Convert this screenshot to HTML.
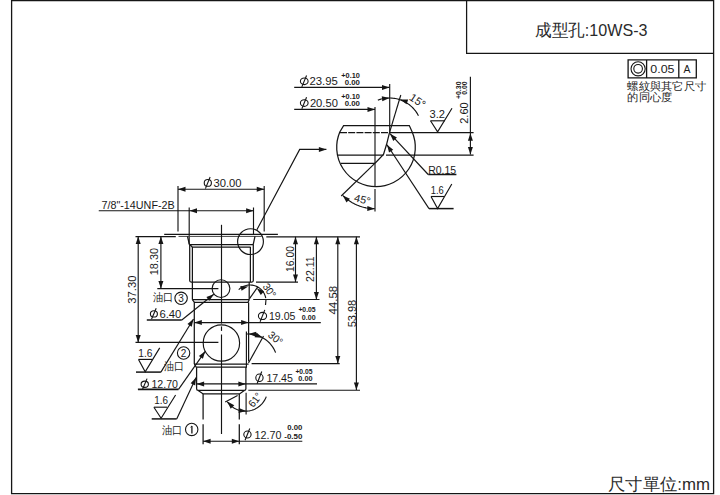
<!DOCTYPE html>
<html><head><meta charset="utf-8"><style>
html,body{margin:0;padding:0;background:#fff;}
svg{display:block;}
text{font-family:"Liberation Sans", sans-serif;}
</style></head><body>
<svg width="720" height="495" viewBox="0 0 720 495">
<rect width="720" height="495" fill="#fff"/>
<path d="M11.6,0.6 H713.6 V493.6 H11.6 Z" stroke="#151515" stroke-width="1.3" fill="none"/>
<path d="M466.6,0.5 V53.3 H713.5" stroke="#151515" stroke-width="1.25" fill="none"/>
<text x="535" y="36" font-size="16.5" text-anchor="start" fill="#2a2a2a" textLength="112.5" lengthAdjust="spacingAndGlyphs">成型孔:10WS-3</text>
<text x="608" y="490" font-size="16.5" text-anchor="start" fill="#2a2a2a" textLength="102" lengthAdjust="spacingAndGlyphs">尺寸單位:mm</text>
<path d="M628.1,59.8 H696.3 V77.9 H628.1 Z M646.6,59.8 V77.9 M678.8,59.8 V77.9" stroke="#151515" stroke-width="1.3" fill="none"/>
<circle cx="638.1" cy="68.8" r="7.1" stroke="#151515" stroke-width="1.1" fill="none"/>
<circle cx="638.1" cy="68.8" r="4.3" stroke="#151515" stroke-width="1.1" fill="none"/>
<text x="650.3" y="72.6" font-size="10.5" text-anchor="start" fill="#1a1a1a" textLength="24.2" lengthAdjust="spacingAndGlyphs">0.05</text>
<text x="683.6" y="72.6" font-size="10.5" text-anchor="start" fill="#1a1a1a">A</text>
<text x="627.3" y="90.3" font-size="11.2" text-anchor="start" fill="#1a1a1a" textLength="79" lengthAdjust="spacingAndGlyphs">螺紋與其它尺寸</text>
<text x="627.3" y="101.3" font-size="11.2" text-anchor="start" fill="#1a1a1a" textLength="45" lengthAdjust="spacingAndGlyphs">的同心度</text>
<path d="M294.20,87.40 L389.50,87.40" stroke="#151515" stroke-width="1.15" fill="none"/>
<polygon points="389.50,87.40 382.00,89.90 382.00,84.90" fill="#151515"/>
<path d="M389.70,84.00 L389.70,132.70" stroke="#151515" stroke-width="1.15" fill="none"/>
<ellipse cx="304.25" cy="81.30" rx="3.85" ry="3.30" stroke="#151515" stroke-width="1.1" fill="none"/>
<path d="M306.55,75.50 L301.85,86.90" stroke="#151515" stroke-width="1.1" fill="none"/>
<text x="309.5" y="85.1" font-size="11" text-anchor="start" fill="#1a1a1a" textLength="28.4" lengthAdjust="spacingAndGlyphs">23.95</text>
<text x="341.3" y="77.8" font-size="7" text-anchor="start" fill="#1a1a1a" textLength="18.6" lengthAdjust="spacingAndGlyphs" font-weight="bold">+0.10</text>
<text x="344.7" y="84.6" font-size="7" text-anchor="start" fill="#1a1a1a" textLength="15.2" lengthAdjust="spacingAndGlyphs" font-weight="bold">0.00</text>
<path d="M294.20,109.40 L375.00,109.40" stroke="#151515" stroke-width="1.15" fill="none"/>
<polygon points="375.00,109.40 367.50,111.90 367.50,106.90" fill="#151515"/>
<path d="M375.00,107.00 L375.00,186.50" stroke="#151515" stroke-width="1.15" fill="none"/>
<path d="M375.00,189.00 L375.00,211.50" stroke="#151515" stroke-width="1.15" fill="none"/>
<ellipse cx="304.25" cy="103.05" rx="3.85" ry="3.35" stroke="#151515" stroke-width="1.1" fill="none"/>
<path d="M306.55,97.20 L301.85,108.70" stroke="#151515" stroke-width="1.1" fill="none"/>
<text x="309.9" y="106.9" font-size="11" text-anchor="start" fill="#1a1a1a" textLength="28.0" lengthAdjust="spacingAndGlyphs">20.50</text>
<text x="341.3" y="99.2" font-size="7" text-anchor="start" fill="#1a1a1a" textLength="18.6" lengthAdjust="spacingAndGlyphs" font-weight="bold">+0.10</text>
<text x="344.7" y="106.4" font-size="7" text-anchor="start" fill="#1a1a1a" textLength="15.2" lengthAdjust="spacingAndGlyphs" font-weight="bold">0.00</text>
<path d="M377.85,100.16 L378.97,99.75 L380.11,99.39 L381.25,99.06 L382.41,98.78 L383.58,98.54 L384.75,98.35 L385.93,98.20 L387.12,98.09 L388.31,98.02 L389.50,98.00 L390.69,98.02 L391.88,98.09 L393.07,98.20 L394.25,98.35 L395.42,98.54 L396.59,98.78 L397.75,99.06 L398.89,99.39 L400.03,99.75 L401.15,100.16 L402.25,100.61 L403.34,101.09 L404.41,101.62 L405.45,102.19 L406.48,102.79 L407.49,103.43 L408.47,104.11 L409.42,104.82 L410.35,105.57 L411.25,106.35 L412.12,107.16 L412.96,108.01 L413.77,108.88 L414.54,109.78 L415.28,110.72 L415.99,111.67 L416.66,112.66 L417.30,113.66 L417.90,114.69 L418.46,115.75" stroke="#151515" stroke-width="1.15" fill="none"/>
<polygon points="389.50,98.00 382.30,101.28 381.78,96.30" fill="#151515"/>
<polygon points="400.30,99.40 408.20,99.56 406.53,104.27" fill="#151515"/>
<path d="M389.50,132.70 L400.80,95.00" stroke="#151515" stroke-width="1.15" fill="none"/>
<text x="408.6" y="99.3" font-size="11" text-anchor="start" fill="#1a1a1a" transform="rotate(34 408.6 99.3)">15°</text>
<path d="M343.6,125.6 L409.3,125.6 L412.2,132 A39.3,39.3 0 1 1 339.8,132 Z" stroke="#151515" stroke-width="1.25" fill="none"/>
<path d="M340.00,132.70 L389.00,132.70" stroke="#151515" stroke-width="1.25" fill="none" stroke-dasharray="7,1.2"/>
<path d="M389.00,132.70 L473.60,132.70" stroke="#151515" stroke-width="1.25" fill="none"/>
<path d="M338.00,155.00 L383.50,155.00" stroke="#151515" stroke-width="1.25" fill="none"/>
<path d="M386.00,155.00 L473.60,155.00" stroke="#151515" stroke-width="1.25" fill="none"/>
<path d="M341.00,163.40 L375.00,163.40" stroke="#151515" stroke-width="1.25" fill="none"/>
<path d="M389.50,132.70 L386.60,144.30 L383.50,154.50 L375.00,163.20" stroke="#151515" stroke-width="1.25" fill="none"/>
<path d="M390.00,133.70 L428.20,174.50" stroke="#151515" stroke-width="1.15" fill="none"/>
<path d="M428.20,174.50 L456.40,174.50" stroke="#151515" stroke-width="1.5" fill="none"/>
<polygon points="390.00,133.70 396.94,137.48 393.28,140.89" fill="#151515"/>
<path d="M387.00,144.80 L429.00,208.60" stroke="#151515" stroke-width="1.15" fill="none"/>
<path d="M429.00,208.60 L453.60,208.60" stroke="#151515" stroke-width="1.5" fill="none"/>
<polygon points="387.00,144.80 393.21,149.69 389.04,152.44" fill="#151515"/>
<text x="428.2" y="173.7" font-size="10" text-anchor="start" fill="#1a1a1a" textLength="28" lengthAdjust="spacingAndGlyphs">R0.15</text>
<path d="M430.50,120.80 L445.00,120.80" stroke="#151515" stroke-width="1.15" fill="none"/>
<path d="M430.50,120.80 L437.60,131.90 L452.00,108.30" stroke="#151515" stroke-width="1.15" fill="none"/>
<text x="429.5" y="118" font-size="10.5" text-anchor="start" fill="#1a1a1a" textLength="15.5" lengthAdjust="spacingAndGlyphs">3.2</text>
<path d="M431.00,196.50 L444.00,196.50" stroke="#151515" stroke-width="1.15" fill="none"/>
<path d="M431.00,196.50 L437.60,208.60 L451.80,184.00" stroke="#151515" stroke-width="1.15" fill="none"/>
<text x="430.8" y="194" font-size="10.5" text-anchor="start" fill="#1a1a1a" textLength="13" lengthAdjust="spacingAndGlyphs">1.6</text>
<path d="M470.40,76.80 L470.40,154.50" stroke="#151515" stroke-width="1.15" fill="none"/>
<polygon points="470.40,133.20 472.90,140.70 467.90,140.70" fill="#151515"/>
<polygon points="470.40,154.50 467.90,147.00 472.90,147.00" fill="#151515"/>
<text x="467.6" y="123.8" font-size="11" text-anchor="start" fill="#1a1a1a" transform="rotate(-90 467.6 123.8)" textLength="21.5" lengthAdjust="spacingAndGlyphs">2.60</text>
<text x="461.4" y="99" font-size="7" text-anchor="start" fill="#1a1a1a" transform="rotate(-90 461.4 99)" textLength="17.5" lengthAdjust="spacingAndGlyphs" font-weight="bold">+0.30</text>
<text x="467.4" y="94.8" font-size="7" text-anchor="start" fill="#1a1a1a" transform="rotate(-90 467.4 94.8)" textLength="13.3" lengthAdjust="spacingAndGlyphs" font-weight="bold">0.00</text>
<path d="M374.80,163.40 L341.20,196.00" stroke="#151515" stroke-width="1.15" fill="none"/>
<path d="M342.77,195.43 L343.40,196.05 L344.05,196.66 L344.71,197.26 L345.38,197.85 L346.06,198.42 L346.76,198.97 L347.46,199.52 L348.17,200.05 L348.90,200.56 L349.63,201.07 L350.38,201.55 L351.13,202.02 L351.89,202.48 L352.67,202.92 L353.45,203.35 L354.23,203.76 L355.03,204.16 L355.83,204.54 L356.65,204.90 L357.46,205.25 L358.29,205.58 L359.12,205.90 L359.96,206.20 L360.80,206.48 L361.65,206.75 L362.50,207.00 L363.36,207.23 L364.22,207.45 L365.09,207.65 L365.96,207.83 L366.84,207.99 L367.71,208.14 L368.59,208.27 L369.48,208.39 L370.36,208.48 L371.25,208.56 L372.13,208.62 L373.02,208.67 L373.91,208.69 L374.80,208.70" stroke="#151515" stroke-width="1.15" fill="none"/>
<polygon points="342.77,195.43 349.94,198.76 346.51,202.40" fill="#151515"/>
<polygon points="374.80,208.70 367.23,210.98 367.38,205.98" fill="#151515"/>
<text x="353.5" y="201" font-size="10.5" text-anchor="start" fill="#1a1a1a" transform="rotate(14 353.5 201)" textLength="16.5" lengthAdjust="spacingAndGlyphs">45°</text>
<path d="M256.90,229.80 L299.70,149.40 L326.40,149.40" stroke="#151515" stroke-width="1.15" fill="none"/>
<polygon points="326.40,149.40 318.90,151.90 318.90,146.90" fill="#151515"/>
<path d="M178.00,189.25 L264.25,189.25" stroke="#151515" stroke-width="1.15" fill="none"/>
<polygon points="178.00,189.25 185.50,186.75 185.50,191.75" fill="#151515"/>
<polygon points="264.25,189.25 256.75,191.75 256.75,186.75" fill="#151515"/>
<path d="M178.00,186.00 L178.00,231.50" stroke="#151515" stroke-width="1.15" fill="none"/>
<path d="M264.20,186.00 L264.20,231.50" stroke="#151515" stroke-width="1.15" fill="none"/>
<ellipse cx="207.82" cy="182.90" rx="3.58" ry="3.40" stroke="#151515" stroke-width="1.1" fill="none"/>
<path d="M210.12,177.00 L205.42,188.60" stroke="#151515" stroke-width="1.1" fill="none"/>
<text x="213.4" y="186.8" font-size="11" text-anchor="start" fill="#1a1a1a" textLength="28.1" lengthAdjust="spacingAndGlyphs">30.00</text>
<path d="M98.75,210.75 L253.75,210.75" stroke="#151515" stroke-width="1.15" fill="none"/>
<polygon points="189.50,210.75 197.00,208.25 197.00,213.25" fill="#151515"/>
<polygon points="253.60,210.75 246.10,213.25 246.10,208.25" fill="#151515"/>
<path d="M189.20,207.50 L189.20,244.20" stroke="#151515" stroke-width="1.15" fill="none"/>
<path d="M253.50,207.50 L253.50,234.00" stroke="#151515" stroke-width="1.15" fill="none"/>
<text x="101.5" y="208.75" font-size="10.5" text-anchor="start" fill="#1a1a1a" textLength="73.2" lengthAdjust="spacingAndGlyphs">7/8"-14UNF-2B</text>
<path d="M164.20,234.30 L277.90,234.30" stroke="#151515" stroke-width="1.25" fill="none"/>
<path d="M135.50,236.60 L175.80,236.60" stroke="#151515" stroke-width="1.15" fill="none"/>
<path d="M266.30,236.90 L360.00,236.90" stroke="#151515" stroke-width="1.3" fill="none"/>
<path d="M178.50,236.40 L261.70,236.40" stroke="#444" stroke-width="1.0" fill="none"/>
<path d="M187.50,236.40 L189.40,244.50" stroke="#151515" stroke-width="1.25" fill="none"/>
<path d="M255.00,236.40 L253.20,244.50" stroke="#151515" stroke-width="1.25" fill="none"/>
<path d="M189.40,244.50 L253.20,244.50" stroke="#151515" stroke-width="1.25" fill="none"/>
<path d="M192.30,247.00 L250.60,247.00" stroke="#151515" stroke-width="1.25" fill="none"/>
<path d="M189.70,244.50 L192.30,247.00" stroke="#151515" stroke-width="1.25" fill="none"/>
<path d="M189.7,244.2 V280.6 Q189.7,282.1 191.2,282.1 H251.8 Q253.3,282.1 253.3,280.6 V244.2" stroke="#151515" stroke-width="1.25" fill="none"/>
<path d="M192.40,247.00 L192.40,299.70" stroke="#151515" stroke-width="1.25" fill="none"/>
<path d="M250.40,247.00 L250.40,282.10" stroke="#151515" stroke-width="1.25" fill="none"/>
<path d="M249.20,282.10 L249.20,299.70" stroke="#151515" stroke-width="1.25" fill="none"/>
<circle cx="250.5" cy="241.6" r="12.9" stroke="#151515" stroke-width="1.15" fill="none"/>
<path d="M221.50,224.80 L221.50,323.60" stroke="#151515" stroke-width="1.15" fill="none"/>
<path d="M221.50,326.40 L221.50,330.90" stroke="#151515" stroke-width="1.15" fill="none"/>
<path d="M221.50,334.50 L221.50,434.00" stroke="#151515" stroke-width="1.15" fill="none"/>
<path d="M192.40,299.70 L249.20,299.70" stroke="#151515" stroke-width="1.25" fill="none"/>
<path d="M192.40,299.70 L194.40,302.40 L247.90,302.40 L249.20,299.70" stroke="#151515" stroke-width="1.25" fill="none"/>
<path d="M194.30,302.40 L194.30,364.00" stroke="#151515" stroke-width="1.25" fill="none"/>
<path d="M248.60,302.40 L248.60,361.40" stroke="#151515" stroke-width="1.25" fill="none"/>
<circle cx="221.0" cy="288.6" r="8.9" stroke="#151515" stroke-width="1.15" fill="none"/>
<circle cx="221.4" cy="343.0" r="18.2" stroke="#151515" stroke-width="1.15" fill="none"/>
<path d="M157.30,288.60 L218.40,288.60" stroke="#151515" stroke-width="1.15" fill="none"/>
<path d="M135.50,342.40 L218.40,342.40" stroke="#151515" stroke-width="1.15" fill="none"/>
<path d="M246.40,331.40 L246.40,367.70" stroke="#151515" stroke-width="1.15" fill="none"/>
<path d="M194.30,364.00 L248.60,364.00" stroke="#151515" stroke-width="1.25" fill="none"/>
<path d="M251.60,363.60 L339.70,363.60" stroke="#151515" stroke-width="1.15" fill="none"/>
<path d="M194.30,364.00 L196.20,367.20 L246.40,367.20" stroke="#151515" stroke-width="1.25" fill="none"/>
<path d="M196.6,367.2 V388.8 Q196.6,390.4 198.2,390.4 H244.3 Q245.9,390.4 245.9,388.8 V367.2" stroke="#151515" stroke-width="1.25" fill="none"/>
<path d="M198.20,390.40 L203.20,393.90 L239.50,393.90 L244.30,390.40" stroke="#151515" stroke-width="1.25" fill="none"/>
<path d="M203.10,393.90 L203.10,419.50" stroke="#151515" stroke-width="1.25" fill="none"/>
<path d="M203.10,424.20 L203.10,444.20" stroke="#151515" stroke-width="1.25" fill="none"/>
<path d="M239.30,393.90 L239.30,419.50" stroke="#151515" stroke-width="1.25" fill="none"/>
<path d="M239.30,424.20 L239.30,444.20" stroke="#151515" stroke-width="1.25" fill="none"/>
<path d="M238.69,289.69 L239.32,289.09 L239.99,288.52 L240.68,287.99 L241.40,287.51 L242.15,287.06 L242.92,286.65 L243.72,286.29 L244.53,285.96 L245.36,285.69 L246.20,285.46 L247.05,285.27 L247.91,285.14 L248.78,285.05 L249.65,285.00 L250.52,285.01 L251.39,285.06 L252.26,285.16 L253.12,285.31 L253.97,285.50 L254.81,285.74 L255.64,286.03 L256.44,286.36 L257.23,286.73 L258.00,287.14 L258.74,287.60 L259.46,288.10 L260.15,288.63 L260.81,289.20 L261.44,289.81 L262.03,290.45 L262.59,291.12 L263.11,291.82 L263.59,292.55 L264.03,293.30 L264.43,294.08 L264.78,294.88 L265.09,295.69 L265.36,296.52 L265.58,297.37 L265.76,298.22" stroke="#151515" stroke-width="1.15" fill="none"/>
<polygon points="248.20,286.40 241.59,290.73 240.31,285.90" fill="#151515"/>
<polygon points="256.80,288.20 264.10,291.24 260.81,295.01" fill="#151515"/>
<path d="M249.50,298.70 L258.00,286.60" stroke="#151515" stroke-width="1.15" fill="none"/>
<path d="M266.00,299.50 L265.50,305.00" stroke="#151515" stroke-width="1.15" fill="none"/>
<text x="262.2" y="286.5" font-size="10.5" text-anchor="start" fill="#1a1a1a" transform="rotate(55 262.2 286.5)" textLength="15" lengthAdjust="spacingAndGlyphs">30°</text>
<path d="M256.00,282.10 L298.00,282.10" stroke="#151515" stroke-width="1.15" fill="none"/>
<path d="M253.20,299.50 L319.50,299.50" stroke="#151515" stroke-width="1.15" fill="none"/>
<path d="M245.97,334.11 L246.91,334.04 L247.84,334.01 L248.78,334.00 L249.71,334.03 L250.65,334.08 L251.58,334.16 L252.51,334.28 L253.44,334.42 L254.36,334.60 L255.27,334.80 L256.18,335.03 L257.08,335.30 L257.97,335.59 L258.85,335.91 L259.71,336.26 L260.57,336.63 L261.42,337.04 L262.25,337.47 L263.07,337.92 L263.87,338.41 L264.65,338.92 L265.42,339.45 L266.17,340.01 L266.91,340.59 L267.62,341.20 L268.31,341.83 L268.99,342.48 L269.64,343.15 L270.27,343.84 L270.88,344.55 L271.46,345.29 L272.02,346.04 L272.56,346.80 L273.07,347.59 L273.55,348.39 L274.01,349.21 L274.44,350.04 L274.85,350.88 L275.22,351.74 L275.57,352.61" stroke="#151515" stroke-width="1.15" fill="none"/>
<polygon points="248.60,334.00 256.17,331.74 256.02,336.73" fill="#151515"/>
<polygon points="262.50,337.70 254.61,337.13 256.53,332.51" fill="#151515"/>
<path d="M248.50,363.00 L263.50,336.00" stroke="#151515" stroke-width="1.15" fill="none"/>
<text x="267.3" y="336" font-size="10.5" text-anchor="start" fill="#1a1a1a" transform="rotate(40 267.3 336)" textLength="15.5" lengthAdjust="spacingAndGlyphs">30°</text>
<path d="M138.20,236.60 L138.20,342.40" stroke="#151515" stroke-width="1.15" fill="none"/>
<polygon points="138.20,236.60 140.70,244.10 135.70,244.10" fill="#151515"/>
<polygon points="138.20,342.40 135.70,334.90 140.70,334.90" fill="#151515"/>
<path d="M160.90,236.60 L160.90,288.60" stroke="#151515" stroke-width="1.15" fill="none"/>
<polygon points="160.90,236.60 163.40,244.10 158.40,244.10" fill="#151515"/>
<polygon points="160.90,288.60 158.40,281.10 163.40,281.10" fill="#151515"/>
<text x="158.2" y="275.2" font-size="11" text-anchor="start" fill="#1a1a1a" transform="rotate(-90 158.2 275.2)" textLength="27.2" lengthAdjust="spacingAndGlyphs">18.30</text>
<text x="136.4" y="303.7" font-size="11" text-anchor="start" fill="#1a1a1a" transform="rotate(-90 136.4 303.7)" textLength="28.2" lengthAdjust="spacingAndGlyphs">37.30</text>
<text x="152.8" y="301" font-size="10.5" text-anchor="start" fill="#1a1a1a" textLength="20.5" lengthAdjust="spacingAndGlyphs">油口</text>
<circle cx="181.1" cy="298.3" r="6.2" stroke="#151515" stroke-width="1.1" fill="none"/>
<text x="181.1" y="301.90000000000003" font-size="10" text-anchor="middle" fill="#1a1a1a">3</text>
<path d="M295.50,236.80 L295.50,282.10" stroke="#151515" stroke-width="1.15" fill="none"/>
<polygon points="295.50,236.80 298.00,244.30 293.00,244.30" fill="#151515"/>
<polygon points="295.50,282.10 293.00,274.60 298.00,274.60" fill="#151515"/>
<path d="M316.40,236.80 L316.40,299.50" stroke="#151515" stroke-width="1.15" fill="none"/>
<polygon points="316.40,236.80 318.90,244.30 313.90,244.30" fill="#151515"/>
<polygon points="316.40,299.50 313.90,292.00 318.90,292.00" fill="#151515"/>
<path d="M337.80,236.80 L337.80,363.60" stroke="#151515" stroke-width="1.15" fill="none"/>
<polygon points="337.80,236.80 340.30,244.30 335.30,244.30" fill="#151515"/>
<polygon points="337.80,363.60 335.30,356.10 340.30,356.10" fill="#151515"/>
<path d="M356.40,236.80 L356.40,389.90" stroke="#151515" stroke-width="1.15" fill="none"/>
<polygon points="356.40,236.80 358.90,244.30 353.90,244.30" fill="#151515"/>
<polygon points="356.40,389.90 353.90,382.40 358.90,382.40" fill="#151515"/>
<path d="M248.30,390.20 L360.00,390.20" stroke="#151515" stroke-width="1.15" fill="none"/>
<text x="293.6" y="271.9" font-size="11" text-anchor="start" fill="#1a1a1a" transform="rotate(-90 293.6 271.9)" textLength="25.9" lengthAdjust="spacingAndGlyphs">16.00</text>
<text x="314.5" y="281.9" font-size="11" text-anchor="start" fill="#1a1a1a" transform="rotate(-90 314.5 281.9)" textLength="25.6" lengthAdjust="spacingAndGlyphs">22.11</text>
<text x="337" y="314.5" font-size="11" text-anchor="start" fill="#1a1a1a" transform="rotate(-90 337 314.5)" textLength="28.6" lengthAdjust="spacingAndGlyphs">44.58</text>
<text x="356" y="327.3" font-size="11" text-anchor="start" fill="#1a1a1a" transform="rotate(-90 356 327.3)" textLength="27.5" lengthAdjust="spacingAndGlyphs">53.98</text>
<path d="M194.30,322.60 L320.80,322.60" stroke="#151515" stroke-width="1.15" fill="none"/>
<polygon points="194.30,322.60 201.80,320.10 201.80,325.10" fill="#151515"/>
<polygon points="248.60,322.60 241.10,325.10 241.10,320.10" fill="#151515"/>
<ellipse cx="262.50" cy="315.95" rx="4.10" ry="3.55" stroke="#151515" stroke-width="1.1" fill="none"/>
<path d="M264.80,309.90 L260.10,321.80" stroke="#151515" stroke-width="1.1" fill="none"/>
<text x="269.0" y="320" font-size="11" text-anchor="start" fill="#1a1a1a" textLength="26.4" lengthAdjust="spacingAndGlyphs">19.05</text>
<text x="298.4" y="312.2" font-size="7" text-anchor="start" fill="#1a1a1a" textLength="17.2" lengthAdjust="spacingAndGlyphs" font-weight="bold">+0.05</text>
<text x="301.8" y="320" font-size="7" text-anchor="start" fill="#1a1a1a" textLength="13.8" lengthAdjust="spacingAndGlyphs" font-weight="bold">0.00</text>
<path d="M196.60,383.90 L317.00,383.90" stroke="#151515" stroke-width="1.15" fill="none"/>
<polygon points="196.60,383.90 204.10,381.40 204.10,386.40" fill="#151515"/>
<polygon points="245.90,383.90 238.40,386.40 238.40,381.40" fill="#151515"/>
<ellipse cx="259.45" cy="377.75" rx="3.65" ry="3.75" stroke="#151515" stroke-width="1.1" fill="none"/>
<path d="M261.75,371.50 L257.05,383.80" stroke="#151515" stroke-width="1.1" fill="none"/>
<text x="266.4" y="382" font-size="11" text-anchor="start" fill="#1a1a1a" textLength="26.5" lengthAdjust="spacingAndGlyphs">17.45</text>
<text x="295.4" y="373.7" font-size="7" text-anchor="start" fill="#1a1a1a" textLength="17.1" lengthAdjust="spacingAndGlyphs" font-weight="bold">+0.05</text>
<text x="298.3" y="381" font-size="7" text-anchor="start" fill="#1a1a1a" textLength="14.2" lengthAdjust="spacingAndGlyphs" font-weight="bold">0.00</text>
<path d="M203.10,441.20 L302.30,441.20" stroke="#151515" stroke-width="1.15" fill="none"/>
<polygon points="203.10,441.20 210.60,438.70 210.60,443.70" fill="#151515"/>
<polygon points="239.30,441.20 231.80,443.70 231.80,438.70" fill="#151515"/>
<ellipse cx="247.45" cy="434.50" rx="3.65" ry="3.50" stroke="#151515" stroke-width="1.1" fill="none"/>
<path d="M249.75,428.50 L245.05,440.30" stroke="#151515" stroke-width="1.1" fill="none"/>
<text x="254.4" y="438.5" font-size="11" text-anchor="start" fill="#1a1a1a" textLength="27.0" lengthAdjust="spacingAndGlyphs">12.70</text>
<text x="287.3" y="429.7" font-size="7" text-anchor="start" fill="#1a1a1a" textLength="15.1" lengthAdjust="spacingAndGlyphs" font-weight="bold">0.00</text>
<text x="284.3" y="438.5" font-size="7" text-anchor="start" fill="#1a1a1a" textLength="18.1" lengthAdjust="spacingAndGlyphs" font-weight="bold">-0.50</text>
<text x="162" y="433.7" font-size="10.5" text-anchor="start" fill="#1a1a1a" textLength="20.5" lengthAdjust="spacingAndGlyphs">油口</text>
<circle cx="191.7" cy="429.4" r="6.2" stroke="#151515" stroke-width="1.1" fill="none"/>
<path d="M191.90,426.00 L191.90,433.60" stroke="#151515" stroke-width="1.3" fill="none"/>
<path d="M190.60,427.20 L191.90,426.00" stroke="#151515" stroke-width="1.0" fill="none"/>
<path d="M146.80,320.00 L181.80,320.00" stroke="#151515" stroke-width="1.6" fill="none"/>
<path d="M181.80,320.00 L213.80,294.20" stroke="#151515" stroke-width="1.15" fill="none"/>
<polygon points="213.80,294.20 209.53,300.85 206.39,296.96" fill="#151515"/>
<ellipse cx="153.90" cy="313.88" rx="3.50" ry="3.12" stroke="#151515" stroke-width="1.1" fill="none"/>
<path d="M156.20,308.25 L151.50,319.30" stroke="#151515" stroke-width="1.1" fill="none"/>
<text x="159.4" y="317.5" font-size="11" text-anchor="start" fill="#1a1a1a" textLength="22.0" lengthAdjust="spacingAndGlyphs">6.40</text>
<path d="M138.50,359.40 L152.40,359.40" stroke="#151515" stroke-width="1.15" fill="none"/>
<path d="M138.50,359.40 L145.20,371.80 L159.70,347.90" stroke="#151515" stroke-width="1.15" fill="none"/>
<path d="M136.00,372.10 L160.90,372.10" stroke="#151515" stroke-width="1.5" fill="none"/>
<path d="M160.90,372.10 L193.50,319.00" stroke="#151515" stroke-width="1.15" fill="none"/>
<polygon points="193.50,319.00 191.71,326.70 187.45,324.08" fill="#151515"/>
<text x="138.3" y="357" font-size="10.5" text-anchor="start" fill="#1a1a1a" textLength="14.2" lengthAdjust="spacingAndGlyphs">1.6</text>
<circle cx="183.6" cy="353" r="6.2" stroke="#151515" stroke-width="1.1" fill="none"/>
<text x="183.6" y="356.6" font-size="10" text-anchor="middle" fill="#1a1a1a">2</text>
<text x="164.3" y="369.9" font-size="10.5" text-anchor="start" fill="#1a1a1a" textLength="20" lengthAdjust="spacingAndGlyphs">油口</text>
<path d="M137.90,389.40 L178.50,389.40" stroke="#151515" stroke-width="1.6" fill="none"/>
<path d="M178.50,389.40 L205.20,351.30" stroke="#151515" stroke-width="1.15" fill="none"/>
<polygon points="205.20,351.30 202.91,358.87 198.83,355.98" fill="#151515"/>
<ellipse cx="144.75" cy="384.25" rx="3.65" ry="3.15" stroke="#151515" stroke-width="1.1" fill="none"/>
<path d="M147.05,378.60 L142.35,389.70" stroke="#151515" stroke-width="1.1" fill="none"/>
<text x="151.4" y="387.9" font-size="11" text-anchor="start" fill="#1a1a1a" textLength="26.6" lengthAdjust="spacingAndGlyphs">12.70</text>
<path d="M153.90,407.20 L167.20,407.20" stroke="#151515" stroke-width="1.15" fill="none"/>
<path d="M153.90,407.20 L161.10,418.30 L175.60,395.00" stroke="#151515" stroke-width="1.15" fill="none"/>
<path d="M151.70,418.90 L176.70,418.90" stroke="#151515" stroke-width="1.5" fill="none"/>
<path d="M176.70,418.90 L196.10,377.60" stroke="#151515" stroke-width="1.15" fill="none"/>
<polygon points="196.10,377.60 195.17,385.45 190.65,383.33" fill="#151515"/>
<text x="154.2" y="404.4" font-size="10.5" text-anchor="start" fill="#1a1a1a" textLength="13.8" lengthAdjust="spacingAndGlyphs">1.6</text>
<path d="M246.10,392.80 L246.10,414.40" stroke="#151515" stroke-width="1.15" fill="none"/>
<path d="M237.60,395.40 L225.20,402.00" stroke="#151515" stroke-width="1.15" fill="none"/>
<path d="M227.21,401.73 L227.94,402.71 L228.71,403.64 L229.53,404.53 L230.40,405.37 L231.32,406.16 L232.27,406.90 L233.27,407.59 L234.30,408.23 L235.36,408.80 L236.46,409.32 L237.58,409.78 L238.72,410.17 L239.89,410.50 L241.07,410.77 L242.26,410.98 L243.47,411.12 L244.67,411.19 L245.88,411.19 L247.09,411.14 L248.30,411.01 L249.49,410.82 L250.68,410.56 L251.84,410.24 L252.99,409.86 L254.12,409.42 L255.22,408.91 L256.29,408.35 L257.33,407.72 L258.33,407.05 L259.30,406.31 L260.22,405.53 L261.10,404.70 L261.93,403.82 L262.71,402.90 L263.45,401.93 L264.12,400.93 L264.75,399.89 L265.31,398.82 L265.82,397.72 L266.26,396.59" stroke="#151515" stroke-width="1.15" fill="none"/>
<polygon points="227.30,401.60 234.30,405.28 230.69,408.74" fill="#151515"/>
<polygon points="246.20,411.10 238.54,413.05 238.90,408.06" fill="#151515"/>
<text x="253.3" y="408" font-size="10.5" text-anchor="start" fill="#1a1a1a" transform="rotate(-52 253.3 408)" textLength="15" lengthAdjust="spacingAndGlyphs">61°</text>
</svg></body></html>
